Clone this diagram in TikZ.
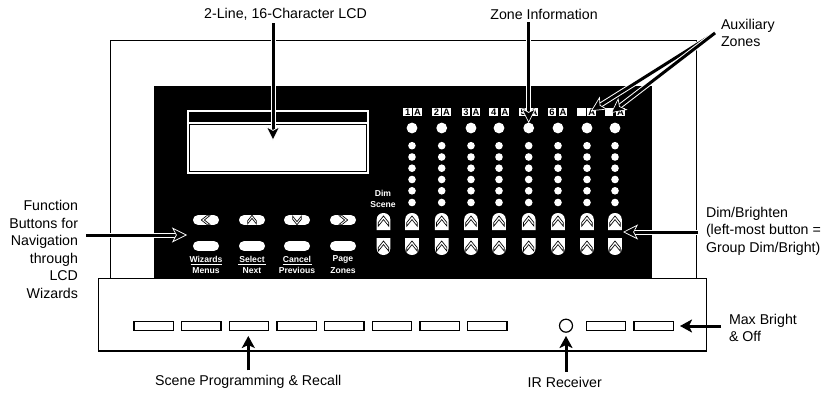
\documentclass[tikz,border=0pt]{standalone}
\usepackage{fontspec}
\setmainfont{Liberation Sans}
\usetikzlibrary{arrows.meta}
\tikzset{
  lab/.style={inner sep=0pt,font=\fontsize{14.2}{17.5}\selectfont},
  panellab/.style={inner sep=0pt,white,align=center,font=\fontsize{8.6}{10.5}\selectfont\bfseries},
  zonebox/.style={fill=white,minimum width=8.6,minimum height=8.8,inner sep=0pt,text=black,font=\fontsize{9.4}{9}\selectfont\bfseries},
  bigled/.style={circle,fill=white,minimum size=10.8,inner sep=0pt},
  smallled/.style={circle,fill=white,minimum size=7.6,inner sep=0pt},
  pill/.style={fill=white,rounded corners=4.7,minimum width=26,minimum height=9.6,inner sep=0pt},
  scenebtn/.style={draw=black,line width=1.4,fill=white,minimum width=39.5,minimum height=8.6,inner sep=0pt},
  callout/.style={black,line width=3,preaction={draw=white,line width=5,shorten >=8,arrows=-},
    -{Stealth[length=15,width=15,inset=4,fill=black,color=white,line width=.7]}},
  solidarrow/.style={black,line width=3,-{Stealth[length=12,width=13,inset=3]}},
  chevron/.pic={\draw[black,line width=.65,fill=white] (-5.2,1) -- (0,-5.5) -- (5.2,1) -- (5.2,4.6) -- (0,-1.9) -- (-5.2,4.6) -- cycle;},
  dimbtn/.pic={\fill[white] (-6.8,8.5) -- (-6.8,-2) .. controls (-6.8,-6) and (-3.5,-8.5) .. (0,-8.5) .. controls (3.5,-8.5) and (6.8,-6) .. (6.8,-2) -- (6.8,8.5) -- cycle;
    \pic[scale=1] at (0,0) {chevron};}
}
\begin{document}
\begin{tikzpicture}[x=1pt,y=-1pt]
\useasboundingbox (0,0) rectangle (830,393);
% housing
\draw[black,line width=1] (110,278) -- (110,41) -- (696.7,41) -- (696.7,278);
\fill[black] (154,86) rectangle (652,278);
\draw[black,line width=1.2,fill=white] (98.5,278.3) rectangle (706.7,351);
% LCD
\draw[white,line width=1.1] (188,111) rectangle (368,173);
\draw[white,line width=1.1] (188,123) -- (368,123);
\fill[white] (190,125) rectangle (366,171);
% function buttons
\foreach \n/\x/\a/\b/\rot in {1/206/Wizards/Menus/90,2/252/Select/Next/0,3/297/Cancel/Previous/180,4/343/Page/Zones/-90}{
  \node[pill] (ft\n) at (\x,220) {};
  \pic[rotate=\rot,scale=.85] at (\x,220) {chevron};
  \node[pill] (fb\n) at (\x,246) {};
  \node[panellab] (fa\n) at (\x,259) {\a};
  \node[panellab] (fc\n) at (\x,270.5) {\b};
}
\foreach \x/\w in {206/15.5,252/14,297/14.5}{\draw[white,line width=.8] (\x-\w,264.7) -- (\x+\w,264.7);}
% dim scene
\node[panellab] (dimscene) at (383,199) {Dim\\Scene};
% button columns
\foreach \x in {383.5,412,441.7,471,499,528.7,558,587,615}{
  \pic at (\x,221.5) {dimbtn};
  \pic[yscale=-1] at (\x,246.5) {dimbtn};
}
% LED columns
\foreach \c/\x in {1/412,2/441.7,3/471,4/499,5/528.7,6/558,7/587,8/615}{
  \node[bigled] (big\c) at (\x,128) {};
  \foreach \r/\y in {1/145.7,2/157,3/168.2,4/179.5,5/190.8,6/202.5}{
    \node[smallled] (led\c-\r) at (\x,\y) {};
  }
}
% zone labels
\foreach \c/\l/\t/\r in {1/407.7/1/417.6,2/436.4/2/446.4,3/466/3/476,4/493.7/4/505,5/523.3/5/534,6/551.9/6/563}{
  \node[zonebox] (zn\c) at (\l,112) {\t};
  \node[zonebox] (za\c) at (\r,112) {A};
}
\node[zonebox] (zn7) at (581.5,112) {};
\node[zonebox] (za7) at (591.7,112) {A};
\node[zonebox] (zn8) at (609,112) {};
\node[zonebox] (za8) at (620.5,112) {A};
% scene buttons
\foreach \n/\x in {1/153.7,2/201.3,3/249,4/296.7,5/344.3,6/392,7/439.7,8/487.3,9/606,10/653.7}{
  \node[scenebtn] (sb\n) at (\x,326) {};
}
\node[circle,draw=black,line width=1.2,fill=white,minimum size=13,inner sep=0pt] (ir) at (566,325.7) {};
% labels
\node[lab,outer ysep=3] (tlcd) at (285.5,14) {2-Line, 16-Character LCD};
\node[lab,outer ysep=3] (tzone) at (544,14) {Zone Information};
\node[lab,align=left,anchor=west,outer xsep=6] (taux) at (715,33) {Auxiliary\\Zones};
\node[lab,align=right,anchor=east,outer xsep=8] (tfunc) at (86,249.5) {Function\\Buttons for\\Navigation\\through\\LCD\\Wizards};
\node[lab,align=left,anchor=west,outer xsep=8] (tdim) at (698,231) {Dim/Brighten\\(left-most button =\\Group Dim/Bright)};
\node[lab,outer ysep=5] (tscene) at (248.3,382) {Scene Programming \& Recall};
\node[lab,outer ysep=5] (tir) at (564.7,382) {IR Receiver};
\node[lab,align=left,anchor=west,outer xsep=8] (tmax) at (721,328) {Max Bright\\\& Off};
% connector ends
\coordinate (plcd) at (273,141);
\coordinate (pzone) at (528.7,123);
\coordinate (pa1) at (591,111);
\coordinate (pa2) at (611,113);
\coordinate (pfunc) at (187,235);
\coordinate (pdim) at (623,232);
\coordinate (pscene) at (248.3,336);
\coordinate (pir) at (566,336);
\coordinate (pmax) at (680,326);
% connectors
\draw[callout] (plcd |- tlcd.south) -- (plcd);
\draw[callout] (pzone |- tzone.south) -- (pzone);
\draw[callout] (taux.west) -- (pa1);
\draw[callout] (taux.west) -- (pa2);
\draw[callout] (tfunc.east |- pfunc) -- (pfunc);
\draw[callout] (tdim.west |- pdim) -- (pdim);
\draw[solidarrow] (pscene |- tscene.north) -- (pscene);
\draw[solidarrow] (pir |- tir.north) -- (pir);
\draw[solidarrow] (tmax.west |- pmax) -- (pmax);
\end{tikzpicture}
\end{document}
